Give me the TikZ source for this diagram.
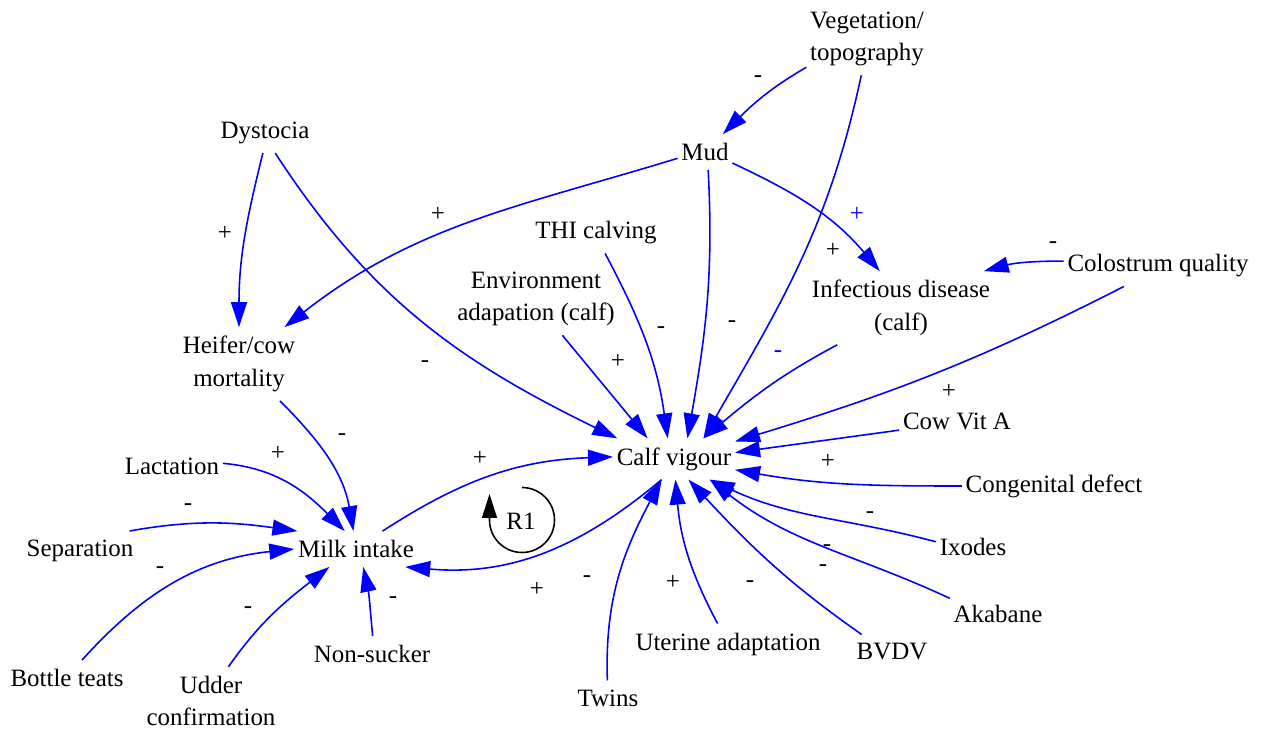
\documentclass[tikz,border=0pt]{standalone}
\usepackage{fontspec}
\setmainfont{Liberation Serif}
\usetikzlibrary{arrows.meta}
\usepackage{xcolor}
\definecolor{cldBlue}{HTML}{0000FF}

\begin{document}
\begin{tikzpicture}[x=0.02cm, y=0.02cm,
  var/.style={inner xsep=2pt, inner ysep=5pt, align=center, font=\fontsize{14.2}{18.5}\selectfont},
  lnk/.style={-{Triangle[length=0.5cm, width=0.32cm]}, line width=0.9pt, cldBlue},
  sgn/.style={inner sep=0pt, text height=6.4pt, text depth=0pt, font=\fontsize{14.2}{18}\selectfont},
  loopa/.style={-{Triangle[length=0.48cm, width=0.3cm]}, line width=0.9pt, black}]
\useasboundingbox (0,0) rectangle (1261,-729);

% ── variables ──
\node[var] (veg) at (867,-39)  {Vegetation/\\topography};
\node[var] (mud) at (705,-152) {Mud};
\node[var] (dys) at (265,-133) {Dystocia};
\node[var] (thi) at (596,-233) {THI calving};
\node[var] (env) at (536,-299) {Environment\\adapation (calf)};
\node[var] (inf) at (901,-308) {Infectious disease\\(calf)};
\node[var] (col) at (1158,-266) {Colostrum quality};
\node[var] (hcm) at (239,-364) {Heifer/cow\\mortality};
\node[var] (cv)  at (674,-459) {Calf vigour};
\node[var] (cva) at (957,-421) {Cow Vit A};
\node[var] (cdf) at (1054,-486) {Congenital defect};
\node[var] (ixo) at (973,-547) {Ixodes};
\node[var] (aka) at (998,-614) {Akabane};
\node[var] (bvd) at (892,-652) {BVDV};
\node[var] (uta) at (728,-644) {Uterine adaptation};
\node[var] (twi) at (608,-698) {Twins};
\node[var] (lac) at (172,-466) {Lactation};
\node[var] (sep) at (80,-551)  {Separation};
\node[var] (mi)  at (356,-549) {Milk intake};
\node[var] (nsu) at (372,-654) {Non-sucker};
\node[var] (bot) at (67,-678)  {Bottle teats};
\node[var] (udd) at (211,-701) {Udder\\confirmation};

% ── causal links ──
\draw[lnk] (veg.-155) to[out=210, in=45] (mud.45);
\draw[lnk] (veg.-99) to[out=258, in=60] (cv.35);
\draw[lnk] (mud.-22) to[out=-25, in=130] (inf.120);
\draw[lnk] (mud.-167) to[out=197, in=38] (hcm.39);
\draw[lnk] (mud.-80) to[out=273, in=80] (cv.57);
\draw[lnk] (dys.-96) to[out=256, in=90] (hcm.90);
\draw[lnk] (dys.-63) to[out=-57, in=154] (cv.160);
\draw[lnk] (thi.-66) to[out=-62, in=98] (cv.107);
\draw[lnk] (env.-54) -- (cv.142);
\draw[lnk] (inf.-150) to[out=208, in=40] (cv.35);
\draw[lnk] (col.177) to[out=180, in=15] (inf.24);
\draw[lnk] (col.-149) to[out=207, in=17] (cv.16);
\draw[lnk] (cva.-171) -- (cv.6);
\draw[lnk] (cdf.180) to[out=180, in=-10] (cv.-10);
\draw[lnk] (ixo.172) to[out=165, in=-25] (cv.-30);
\draw[lnk] (aka.162) to[out=155, in=-38] (cv.-30);
\draw[lnk] (bvd.150) to[out=145, in=-47] (cv.-55);
\draw[lnk] (uta.117) to[out=118, in=-85] (cv.-86);
\draw[lnk] (twi.92) to[out=92, in=-118] (cv.-121);
\draw[lnk] (hcm.-42) to[out=-45, in=100] (mi.98);
\draw[lnk] (lac.3) to[out=-5, in=135] (mi.122);
\draw[lnk] (sep.22) to[out=10, in=172] (mi.163);
\draw[lnk] (bot.50) to[out=48, in=186] (mi.180);
\draw[lnk] (udd.63) to[out=55, in=218] (mi.-146);
\draw[lnk] (nsu.88) to[out=95, in=-78] (mi.-68);
\draw[lnk] (mi.34) to[out=33, in=182] (cv.178);
\draw[lnk] (cv.-121) to[out=220, in=-5] (mi.-20);

% ── polarities ──
\foreach \x/\y/\s [count=\i] in {758/77/-, 438/216/+, 225/235/+, 833/252/+, 1053/243/-,
    661/328/-, 732/322/-, 618/363/+, 425/362/-, 342/435/-, 949/393/+, 278/455/+,
    480/460/+, 828/463/+, 188/505/-, 870/513/-, 827/546/-, 823/566/-, 160/568/-,
    587/577/-, 537/591/+, 393/598/-, 248/608/-, 673/584/+, 750/582/-}
  \node[sgn] (sg\i) at (\x,-\y) {\s};
\node[sgn, text=cldBlue] (sgb1) at (857,-216) {+};
\node[sgn, text=cldBlue] (sgb2) at (778,-352) {-};

% reinforcing loop R1
\coordinate (r1) at (522,-520);
\draw[loopa] (r1) ++(90:0.65cm) arc[start angle=90, end angle=-180, radius=0.65cm] -- ++(0,26);
\node[var, inner sep=0pt] (r1lbl) at (521,-521) {R1};
\end{tikzpicture}
\end{document}
